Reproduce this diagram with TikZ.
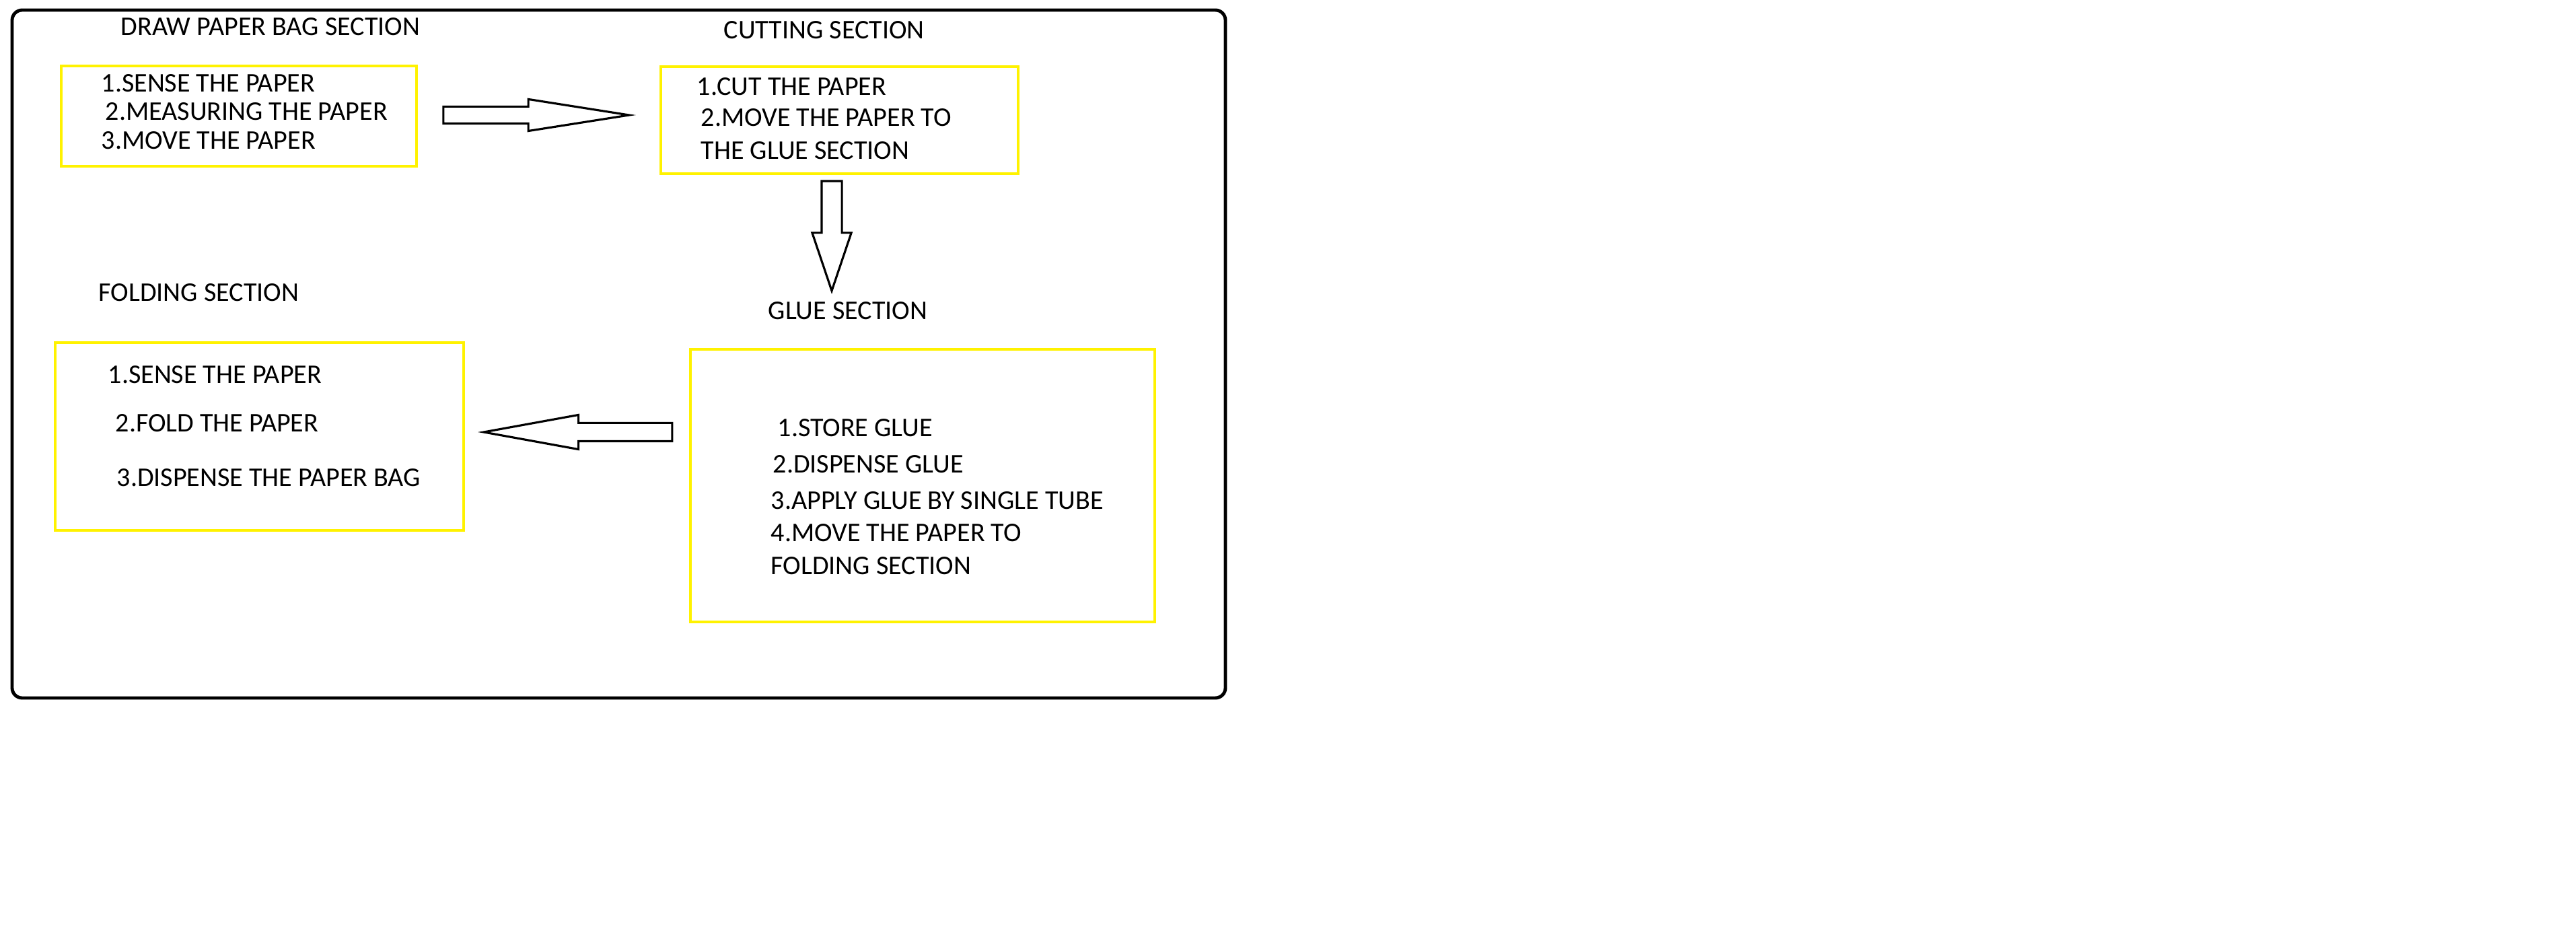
\documentclass[tikz,border=0pt]{standalone}
\usepackage{fontspec}
\setmainfont{Carlito}
\usepackage{tikz}
\usetikzlibrary{shapes.arrows}

\begin{document}
\begin{tikzpicture}[
	ybox/.style={draw=yellow,line width=1.3pt,inner sep=0pt},
	txt/.style={anchor=base west,inner sep=0pt,font=\fontsize{11.4}{13}\selectfont},
	barrow/.style={single arrow,draw,line width=0.9pt,fill=white,inner sep=0pt,single arrow head indent=0pt,anchor=tip}]
			
			\useasboundingbox (0,0) rectangle (38.28,-14.04);
			
			\node[draw,line width=1.4pt,rounded corners=0.15cm,inner sep=0pt,minimum width=18.03cm,minimum height=10.22cm] (frame) at (9.195,-5.26) {};
			
			% boxes
			\node[ybox,minimum width=5.28cm,minimum height=1.49cm] (drawbox) at (3.55,-1.725) {};
			\node[ybox,minimum width=5.31cm,minimum height=1.59cm] (cutbox) at (12.475,-1.785) {};
			\node[ybox,minimum width=6.07cm,minimum height=2.79cm] (foldbox) at (3.855,-6.485) {};
			\node[ybox,minimum width=6.90cm,minimum height=4.05cm] (gluebox) at (13.71,-7.215) {};
			
			% titles
			\node[txt] (drawtitle) at (1.79,-0.53) {DRAW PAPER BAG SECTION};
			\node[txt] (cuttitle) at (10.75,-0.58) {CUTTING SECTION};
			\node[txt] (foldtitle) at (1.46,-4.48) {FOLDING SECTION};
			\node[txt] (gluetitle) at (11.41,-4.75) {GLUE SECTION};
			
			\node[txt] (d1) at (1.50,-1.37) {1.SENSE THE PAPER};
			\node[txt] (d2) at (1.56,-1.79) {2.MEASURING THE PAPER};
			\node[txt] (d3) at (1.50,-2.22) {3.MOVE THE PAPER};
			
			\node[txt] (c1) at (10.35,-1.42) {1.CUT THE PAPER};
			\node[txt] (c2) at (10.41,-1.88) {2.MOVE THE PAPER TO};
			\node[txt] (c3) at (10.41,-2.37) {THE GLUE SECTION};
			
			\node[txt] (f1) at (1.60,-5.70) {1.SENSE THE PAPER};
			\node[txt] (f2) at (1.71,-6.42) {2.FOLD THE PAPER};
			\node[txt] (f3) at (1.73,-7.23) {3.DISPENSE THE PAPER BAG};
			
			\node[txt] (g1) at (11.55,-6.49) {1.STORE GLUE};
			\node[txt] (g2) at (11.48,-7.03) {2.DISPENSE GLUE};
			\node[txt] (g3) at (11.45,-7.57) {3.APPLY GLUE BY SINGLE TUBE};
			\node[txt] (g4) at (11.45,-8.05) {4.MOVE THE PAPER TO};
			\node[txt] (g5) at (11.45,-8.54) {FOLDING SECTION};
			
			% block arrows
			\node[barrow,minimum height=2.76cm,inner ysep=0.11cm,single arrow head extend=0.11cm,single arrow tip angle=17.9] (drawtocut) at (9.45,-1.71) {};
			\node[barrow,rotate=-90,minimum height=1.63cm,inner ysep=0.135cm,single arrow head extend=0.14cm,single arrow tip angle=37.3] (cuttoglue) at (12.36,-4.37) {};
			\node[barrow,rotate=180,minimum height=2.80cm,inner ysep=0.12cm,single arrow head extend=0.12cm,single arrow tip angle=20.6] (gluetofold) at (7.10,-6.42) {};
			
		\end{tikzpicture}
\end{document}
